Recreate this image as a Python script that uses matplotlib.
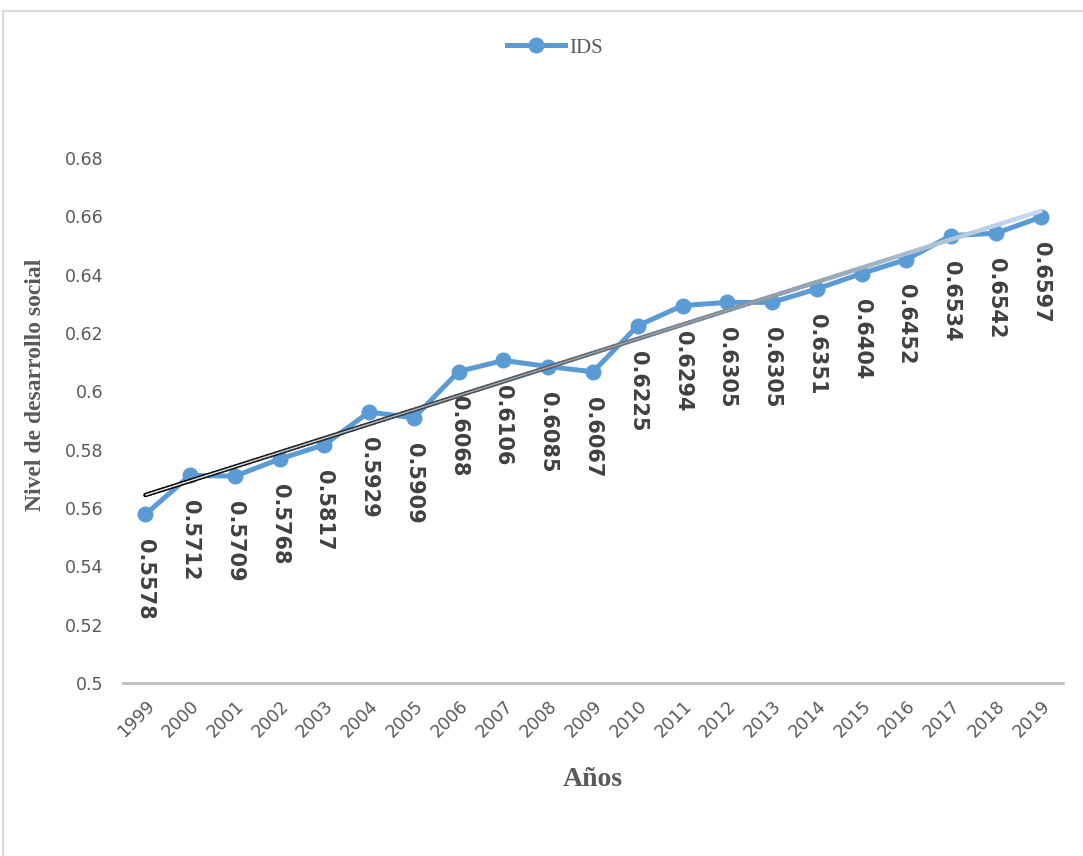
import numpy as np
import matplotlib.pyplot as plt
from matplotlib.collections import LineCollection
from matplotlib.lines import Line2D
from matplotlib.colors import to_rgba

# DATA
years = [str(y) for y in range(1999, 2020)]
ids = [0.5578, 0.5712, 0.5709, 0.5768, 0.5817, 0.5929, 0.5909, 0.6068, 0.6106, 0.6085,
       0.6067, 0.6225, 0.6294, 0.6305, 0.6305, 0.6351, 0.6404, 0.6452, 0.6534, 0.6542, 0.6597]
y_ticks = [0.5, 0.52, 0.54, 0.56, 0.58, 0.6, 0.62, 0.64, 0.66, 0.68]
y_tick_labels = ['0.5', '0.52', '0.54', '0.56', '0.58', '0.6', '0.62', '0.64', '0.66', '0.68']

BLUE = '#5b9bd5'
GREY = '#595959'

fig = plt.figure(figsize=(10.83, 8.56), dpi=100, facecolor='white')
ax = fig.add_axes([123/1083, 1 - 683/856, 940/1083, 525/856])

x = np.arange(len(years))

# trend line (linear fit), gradient black -> light blue
coef = np.polyfit(x, ids, 1)
tx = np.linspace(x[0], x[-1], 200)
ty = np.polyval(coef, tx)
pts = np.column_stack([tx, ty]).reshape(-1, 1, 2)
segs = np.concatenate([pts[:-1], pts[1:]], axis=1)
t = np.linspace(0, 1, len(segs))
c0, c1 = np.array(to_rgba('#000000')), np.array(to_rgba('#c5dcf2'))
cols = c0 + (c1 - c0) * t[:, None]
ax.add_collection(LineCollection(segs, colors=cols, linewidths=3.2, zorder=3, capstyle='round'))
inner = np.tile(np.array([1.0, 1.0, 1.0, 1.0]), (len(segs), 1))
inner[:, 3] = np.clip(1 - t * 1.3, 0, 1)
ax.add_collection(LineCollection(segs, colors=inner, linewidths=1.0, zorder=3.1))

# main series
ax.plot(x, ids, color=BLUE, lw=3.6, marker='o', markersize=10.5, zorder=2, label='IDS')

for xi, v in zip(x, ids):
    ax.annotate(f'{v:.4f}', (xi, v), xytext=(0, -18), textcoords='offset points',
                rotation=-90, ha='center', va='top', fontsize=15, fontweight='bold',
                color='#404040', family='DejaVu Sans')

ax.set_xlim(-0.5, len(years) - 0.5)
ax.set_ylim(0.5, 0.68)
ax.set_yticks(y_ticks)
ax.set_yticklabels(y_tick_labels)
ax.set_xticks(x)
ax.set_xticklabels(years, rotation=45, ha='right', rotation_mode='anchor')
ax.tick_params(axis='both', length=0, labelsize=12.5, labelcolor=GREY)
ax.tick_params(axis='x', pad=10)
ax.tick_params(axis='y', pad=14)

for s in ['top', 'right', 'left']:
    ax.spines[s].set_visible(False)
ax.spines['bottom'].set_color('#bfbfbf')
ax.spines['bottom'].set_linewidth(2)

fig.text(593/1083, 1 - 780/856, 'Años', ha='center', va='center', fontsize=20,
         fontweight='bold', color=GREY, family='Liberation Serif')
fig.text(36/1083, 1 - 385/856, 'Nivel de desarrollo social', ha='center', va='center',
         rotation=90, fontsize=17, fontweight='bold', color=GREY, family='Liberation Serif')

leg = fig.legend(loc='center', bbox_to_anchor=(555/1083, 1 - 48/856), frameon=False,
                 prop={'family': 'Liberation Serif', 'size': 15}, handlelength=2.75,
                 handletextpad=0.2)
for txt in leg.get_texts():
    txt.set_color(GREY)

# outer chart border
fig.add_artist(Line2D([3/1083, 1], [1 - 11/856, 1 - 11/856], color='#d9d9d9', lw=1.5,
                      transform=fig.transFigure))
fig.add_artist(Line2D([3/1083, 3/1083], [0, 1 - 11/856], color='#d9d9d9', lw=1.5,
                      transform=fig.transFigure))

fig.savefig('out.png', dpi=100)
